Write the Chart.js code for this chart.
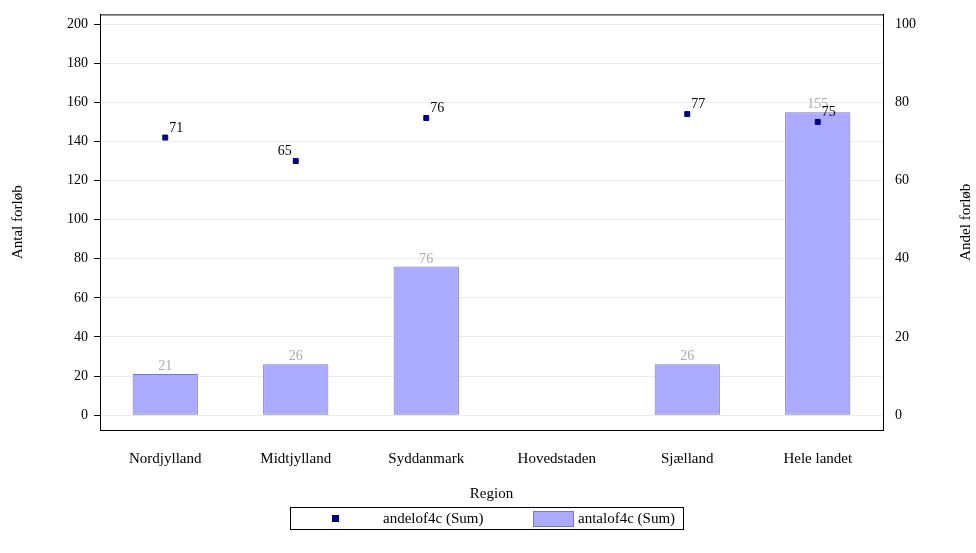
<!DOCTYPE html>
<html><head><meta charset="utf-8">
<script src="https://cdn.jsdelivr.net/npm/chart.js@4"></script>
<style>body{margin:0;background:#fff}#wrap{width:976px;height:553px}</style>
</head><body><div id="wrap"><canvas id="c"></canvas></div>
<script>
const regions = ["Nordjylland", "Midtjylland", "Syddanmark", "Hovedstaden", "Sjælland", "Hele landet"];
const antal = [21, 26, 76, null, 26, 155];
const andel = [71, 65, 76, null, 77, 75];
const font = "'Liberation Serif', 'DejaVu Serif', serif";

function vText(ctx, text, x, y) {
    ctx.save();
    ctx.translate(x, y);
    ctx.rotate(-Math.PI / 2);
    ctx.textAlign = "center";
    ctx.textBaseline = "middle";
    ctx.fillText(text, 0, 0);
    ctx.restore();
}

const labelPlugin = {
    id: "labels",
    afterDatasetsDraw(chart) {
        const ctx = chart.ctx;
        ctx.save();
        ctx.font = "14px " + font;
        // bar labels
        chart.getDatasetMeta(1).data.forEach(function(bar, i) {
            if (antal[i] == null) return;
            ctx.fillStyle = "#aaaaaa";
            ctx.textAlign = "center";
            ctx.fillText(antal[i], bar.x, bar.y - 4);
        });
        // point labels
        chart.getDatasetMeta(0).data.forEach(function(pt, i) {
            if (andel[i] == null) return;
            ctx.fillStyle = "#000";
            if (i == 1) { ctx.textAlign = "right"; ctx.fillText(andel[i], pt.x - 4, pt.y - 6); }
            else { ctx.textAlign = "left"; ctx.fillText(andel[i], pt.x + 4, pt.y - 6); }
        });
        // plot frame
        const a = chart.chartArea;
        ctx.strokeStyle = "#000";
        ctx.lineWidth = 1;
        ctx.strokeRect(a.left + 0.5, a.top + 0.5, a.right - a.left, a.bottom - a.top);
        // axis titles
        ctx.fillStyle = "#000";
        ctx.font = "15px " + font;
        vText(ctx, "Antal forløb", 18, (a.top + a.bottom) / 2);
        vText(ctx, "Andel forløb", 966, (a.top + a.bottom) / 2);
        ctx.textAlign = "center";
        ctx.textBaseline = "middle";
        ctx.fillText("Region", (a.left + a.right) / 2, 494);
        // legend, drawn by hand
        ctx.strokeRect(290.5, 507.5, 393, 22);
        ctx.fillStyle = "#000080";
        ctx.fillRect(332, 515, 7, 7);
        ctx.fillStyle = "rgba(170,170,255,1)";
        ctx.fillRect(533, 511, 40, 15);
        ctx.strokeStyle = "rgba(120,120,190,1)";
        ctx.strokeRect(533.5, 511.5, 40, 15);
        ctx.fillStyle = "#000";
        ctx.textAlign = "left";
        ctx.fillText("andelof4c (Sum)", 383, 519);
        ctx.fillText("antalof4c (Sum)", 578, 519);
        ctx.restore();
    }
};

new Chart(document.getElementById("c"), {
    data: {
        labels: regions,
        datasets: [{
            type: "scatter",
            label: "andelof4c (Sum)",
            data: andel,
            yAxisID: "y2",
            backgroundColor: "#000080",
            borderColor: "#000080",
            pointStyle: "rect",
            pointRadius: 3.5
        }, {
            type: "bar",
            label: "antalof4c (Sum)",
            data: antal,
            yAxisID: "y",
            backgroundColor: "rgba(170,170,255,1)",
            borderColor: "rgba(120,120,190,1)",
            borderWidth: 1,
            borderSkipped: false,
            barPercentage: 0.5,
            categoryPercentage: 1
        }]
    },
    plugins: [labelPlugin],
    options: {
        responsive: true,
        maintainAspectRatio: false,
        animation: false,
        layout: { padding: 0 },
        plugins: {
            tooltip: { enabled: false },
            legend: { display: false }
        },
        scales: {
            x: {
                type: "category",
                offset: true,
                afterFit(s) { s.height = 123; },
                grid: { display: false, tickColor: "#000", tickLength: 6 },
                border: { color: "#000" },
                ticks: { font: { family: font, size: 15 }, color: "#000", padding: 14 }
            },
            y: {
                position: "left",
                min: -7.6, max: 205,
                afterFit(s) { s.width = 100; },
                afterBuildTicks(s) { s.ticks = [0,20,40,60,80,100,120,140,160,180,200].map(v => ({ value: v })); },
                grid: { color: "#ececec", tickColor: "#000", tickLength: 6 },
                border: { color: "#000" },
                ticks: { font: { family: font, size: 14 }, color: "#000", padding: 6 }
            },
            y2: {
                position: "right",
                min: -3.8, max: 102.5,
                afterFit(s) { s.width = 93; },
                afterBuildTicks(s) { s.ticks = [0,20,40,60,80,100].map(v => ({ value: v })); },
                grid: { display: false, tickColor: "#000", tickLength: 6 },
                border: { color: "#000" },
                ticks: { font: { family: font, size: 14 }, color: "#000", padding: 6 }
            }
        }
    }
});
</script></body></html>
